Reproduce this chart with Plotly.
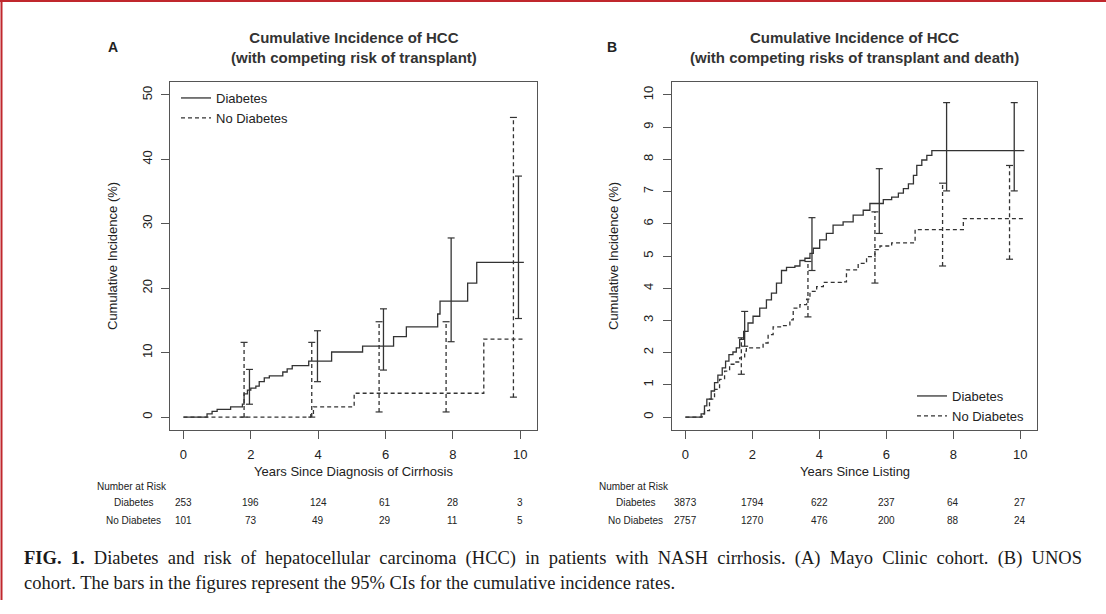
import plotly.graph_objects as go

W, H = 1106, 614

# ---------------- data ----------------
# Panel A (Mayo Clinic cohort) cumulative incidence (%) step functions
diab_A_t = [0, 0.70, 0.85, 1.00, 1.40, 1.75, 1.80, 1.90, 2.00, 2.15, 2.25, 2.40, 2.55, 2.95, 3.08, 3.23,
            3.72, 4.40, 5.32, 6.24, 6.62, 7.55, 7.62, 8.44, 8.71, 10.11]
diab_A_v = [0, 0.5, 0.9, 1.2, 1.6, 2.0, 3.6, 4.2, 4.5, 4.8, 5.5, 6.1, 6.4, 7.0, 7.5, 8.0,
            8.7, 10.1, 11.0, 12.5, 14.0, 16.0, 18.0, 20.8, 24.0, 24.0]
nodiab_A_t = [0, 3.78, 3.86, 5.07, 8.92, 10.11]
nodiab_A_v = [0, 0.4, 1.6, 3.7, 12.1, 12.1]

# Panel A 95% CIs
ci_diab_A_t = [1.96, 3.98, 5.94, 7.95, 9.95]
ci_diab_A_lo = [2.0, 5.5, 7.3, 11.7, 15.3]
ci_diab_A_hi = [7.4, 13.4, 16.8, 27.8, 37.4]
ci_nodiab_A_t = [1.80, 3.81, 5.81, 7.80, 9.80]
ci_nodiab_A_lo = [0.0, 0.0, 0.8, 0.8, 3.1]
ci_nodiab_A_hi = [11.6, 11.6, 14.8, 14.8, 46.5]

# Panel B (UNOS cohort)
diab_B_t = [0, 0.47, 0.57, 0.64, 0.77, 0.87, 0.97, 1.10, 1.20, 1.30, 1.42, 1.52, 1.62, 1.74, 1.87, 2.02,
            2.22, 2.42, 2.57, 2.72, 2.87, 3.02, 3.27, 3.42, 3.57, 3.72, 3.82, 4.01, 4.21, 4.41, 4.71,
            5.01, 5.31, 5.51, 5.91, 6.16, 6.36, 6.51, 6.66, 6.81, 6.91, 7.06, 7.21, 7.36, 10.12]
diab_B_v = [0, 0.10, 0.35, 0.56, 0.81, 1.07, 1.30, 1.53, 1.74, 1.94, 2.02, 2.15, 2.41, 2.66, 2.92, 3.13,
            3.38, 3.64, 3.85, 4.16, 4.55, 4.65, 4.69, 4.86, 4.93, 5.08, 5.24, 5.50, 5.70, 5.96, 6.06,
            6.27, 6.42, 6.63, 6.75, 6.83, 6.95, 7.09, 7.24, 7.50, 7.81, 7.98, 8.12, 8.27, 8.27]
nodiab_B_t = [0, 0.50, 0.57, 0.72, 0.87, 1.02, 1.17, 1.32, 1.47, 1.62, 1.77, 1.82, 2.32, 2.47, 2.62, 2.87,
              3.12, 3.22, 3.42, 3.62, 3.72, 3.92, 4.12, 4.66, 4.81, 5.16, 5.41, 5.66, 5.81, 6.16, 6.86,
              8.30, 10.12]
nodiab_B_v = [0, 0.10, 0.20, 0.56, 0.86, 1.17, 1.43, 1.64, 1.71, 1.84, 2.05, 2.15, 2.30, 2.56, 2.80, 2.84,
              3.02, 3.38, 3.49, 3.66, 3.90, 4.05, 4.18, 4.20, 4.57, 4.77, 4.98, 5.20, 5.31, 5.41, 5.82,
              6.16, 6.16]

ci_diab_B_t = [1.77, 3.78, 5.79, 7.80, 9.82]
ci_diab_B_lo = [2.20, 4.55, 5.70, 7.02, 7.02]
ci_diab_B_hi = [3.28, 6.19, 7.71, 9.76, 9.76]
ci_nodiab_B_t = [1.67, 3.66, 5.66, 7.68, 9.68]
ci_nodiab_B_lo = [1.33, 3.11, 4.16, 4.69, 4.90]
ci_nodiab_B_hi = [2.46, 4.83, 6.37, 7.26, 7.81]

# Number at risk
risk_times = [0, 2, 4, 6, 8, 10]
risk_A_diab = [253, 196, 124, 61, 28, 3]
risk_A_nodiab = [101, 73, 49, 29, 11, 5]
risk_B_diab = [3873, 1794, 622, 237, 64, 27]
risk_B_nodiab = [2757, 1270, 476, 200, 88, 24]

yticks_A = [0, 10, 20, 30, 40, 50]
yticks_B = list(range(0, 11))

# ---------------- styling helpers ----------------
SANS = "Liberation Sans, Arial, sans-serif"
SERIF = "Liberation Serif, Times New Roman, serif"
LINE = "#333333"
AX = "#555555"
TXT = "#222222"


def fx(px):
    return px / W


def fy(py):
    return 1 - py / H


fig = go.Figure()


def add_panel(xa, ya, legend, t1, v1, t2, v2, cd, cn):
    fig.add_trace(go.Scatter(x=t1, y=v1, mode="lines", line=dict(color=LINE, width=1.3, shape="hv"),
                             name="Diabetes", xaxis=xa, yaxis=ya, legend=legend))
    fig.add_trace(go.Scatter(x=t2, y=v2, mode="lines",
                             line=dict(color=LINE, width=1.3, shape="hv", dash="4px,3px"),
                             name="No Diabetes", xaxis=xa, yaxis=ya, legend=legend))
    for (ts, lo, hi), dash in ((cd, "solid"), (cn, "4px,3px")):
        xs, ys = [], []
        for t, a, b in zip(ts, lo, hi):
            xs += [t, t, None]
            ys += [a, b, None]
        fig.add_trace(go.Scatter(x=xs, y=ys, mode="lines", line=dict(color=LINE, width=1.3, dash=dash),
                                 showlegend=False, xaxis=xa, yaxis=ya, hoverinfo="skip"))
        fig.add_trace(go.Scatter(x=list(ts) + list(ts), y=list(lo) + list(hi), mode="markers",
                                 marker=dict(symbol="line-ew", size=5, line=dict(color=LINE, width=1.2)),
                                 showlegend=False, xaxis=xa, yaxis=ya, hoverinfo="skip"))


add_panel("x", "y", "legend", diab_A_t, diab_A_v, nodiab_A_t, nodiab_A_v,
          (ci_diab_A_t, ci_diab_A_lo, ci_diab_A_hi), (ci_nodiab_A_t, ci_nodiab_A_lo, ci_nodiab_A_hi))
add_panel("x2", "y2", "legend2", diab_B_t, diab_B_v, nodiab_B_t, nodiab_B_v,
          (ci_diab_B_t, ci_diab_B_lo, ci_diab_B_hi), (ci_nodiab_B_t, ci_nodiab_B_lo, ci_nodiab_B_hi))

ydom = [fy(430), fy(82)]
axis_common = dict(showline=True, mirror=True, linecolor=AX, linewidth=1, showgrid=False, zeroline=False,
                   ticks="outside", ticklen=8, tickcolor=AX, tickwidth=1,
                   tickfont=dict(family=SANS, size=13, color=TXT))

fig.update_layout(
    width=W, height=H, margin=dict(l=0, r=0, t=0, b=0),
    paper_bgcolor="white", plot_bgcolor="white",
    xaxis=dict(domain=[fx(170), fx(537)], range=[-0.4, 10.5], tickvals=risk_times, anchor="y",
               ticklabelstandoff=4, **axis_common),
    yaxis=dict(domain=ydom, range=[-2, 52], tickvals=yticks_A, tickangle=-90, anchor="x",
               ticklabelstandoff=4, **axis_common),
    xaxis2=dict(domain=[fx(672), fx(1037)], range=[-0.4, 10.5], tickvals=risk_times, anchor="y2",
                ticklabelstandoff=4, **axis_common),
    yaxis2=dict(domain=ydom, range=[-0.4, 10.4], tickvals=yticks_B, tickangle=-90, anchor="x2",
                ticklabelstandoff=5, **axis_common),
    legend=dict(x=fx(176), y=fy(83), xanchor="left", yanchor="top", bgcolor="rgba(0,0,0,0)",
                font=dict(family=SANS, size=13, color=TXT), tracegroupgap=0),
    legend2=dict(x=fx(1030), y=fy(431), xanchor="right", yanchor="bottom", bgcolor="rgba(0,0,0,0)",
                 font=dict(family=SANS, size=13, color=TXT), tracegroupgap=0),
    showlegend=True,
)

ann = []


def text(px, py, s, size=13, bold=False, anchor="center", angle=0, family=SANS, color=TXT):
    ann.append(dict(x=fx(px), y=fy(py), xref="paper", yref="paper", text=(f"<b>{s}</b>" if bold else s),
                    showarrow=False, xanchor=anchor, yanchor="middle", textangle=angle,
                    font=dict(family=family, size=size, color=color)))


# titles
text(353.5, 47, "Cumulative Incidence of HCC<br>(with competing risk of transplant)", size=15, bold=True, color="#333")
text(854.5, 47, "Cumulative Incidence of HCC<br>(with competing risks of transplant and death)", size=15, bold=True, color="#333")
text(113, 47, "A", size=14, bold=True, color="#222")
text(612, 47, "B", size=14, bold=True, color="#222")

# axis titles
text(113, 256, "Cumulative Incidence (%)", angle=-90)
text(614, 256, "Cumulative Incidence (%)", angle=-90)
text(353.5, 471, "Years Since Diagnosis of Cirrhosis")
text(854.5, 471, "Years Since Listing")

# number at risk tables
text(95, 486, "Number at Risk", size=10, anchor="left")
text(133, 502, "Diabetes", size=10)
text(133, 520, "No Diabetes", size=10)
text(597, 486, "Number at Risk", size=10, anchor="left")
text(635, 502, "Diabetes", size=10)
text(635, 520, "No Diabetes", size=10)
for xr, rows in (("x", (risk_A_diab, risk_A_nodiab)), ("x2", (risk_B_diab, risk_B_nodiab))):
    for row, py in zip(rows, (502, 520)):
        for t, n in zip(risk_times, row):
            ann.append(dict(x=t, y=fy(py), xref=xr, yref="paper", text=str(n), showarrow=False,
                            xanchor="center", yanchor="middle", font=dict(family=SANS, size=10, color=TXT)))

# caption (first line justified to the column, second line ragged)
text(22, 558, "<span style=\"word-spacing:4.6px\"><b>FIG. 1.</b> Diabetes and risk of hepatocellular carcinoma (HCC) "
     "in patients with NASH cirrhosis. (A) Mayo Clinic cohort. (B) UNOS</span>",
     size=18.5, anchor="left", family=SERIF, color="#1a1a1a")
text(22, 583, "cohort. The bars in the figures represent the 95% CIs for the cumulative incidence rates.",
     size=18.5, anchor="left", family=SERIF, color="#1a1a1a")

fig.update_layout(annotations=ann)

# red page frame
fig.add_shape(type="line", xref="paper", yref="paper", x0=fx(1.5), x1=fx(1.5), y0=fy(600), y1=1,
              line=dict(color="#c0272d", width=2))
fig.add_shape(type="line", xref="paper", yref="paper", x0=0, x1=1, y0=fy(1), y1=fy(1),
              line=dict(color="#c0272d", width=2))

fig.write_html("out.html", config={"displayModeBar": False},
               post_script="document.body.style.margin='0';document.body.style.overflow='hidden';")
